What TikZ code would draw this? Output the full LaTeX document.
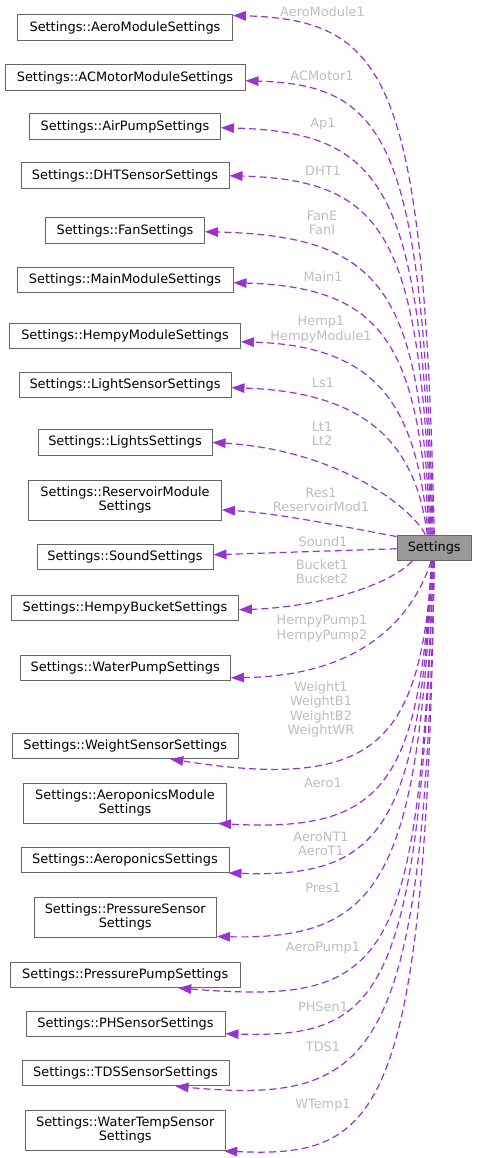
\documentclass[tikz,border=0pt]{standalone}
\usepackage{fontspec}
\setmainfont{DejaVu Sans}
\usetikzlibrary{arrows.meta}
\definecolor{edgecol}{HTML}{9A32CD}
\definecolor{boxgray}{HTML}{666666}
\definecolor{selfill}{HTML}{999999}
\definecolor{labgray}{HTML}{BEBEBE}
\newcommand\lblfont{\fontsize{12.9}{14.3}\selectfont}
\begin{document}
\begin{tikzpicture}[x=1pt,y=-1pt,
  box/.style={draw=boxgray, fill=white, line width=1pt, inner sep=0pt, font=\lblfont, text=black, align=center},
  rel/.style={draw=edgecol, line width=1.2pt, dash pattern=on 7pt off 4pt, -{Triangle[length=13pt,width=9.5pt,fill=edgecol]}},
  lab/.style={text=labgray, font=\lblfont, align=center, inner sep=0pt}]
\useasboundingbox (0,0) rectangle (477,1158);
\fill[white] (0,0) rectangle (477,1158);
% nodes
\node[box, minimum width=74.5pt, minimum height=25.5pt, fill=selfill] (s) at (434.25,547.75) {Settings};
\node[box, minimum width=215pt, minimum height=25.5pt] (n1) at (125,27.75) {Settings::AeroModuleSettings};
\node[box, minimum width=240pt, minimum height=25.5pt] (n2) at (125,77.75) {Settings::ACMotorModuleSettings};
\node[box, minimum width=191pt, minimum height=25.5pt] (n3) at (125,126.75) {Settings::AirPumpSettings};
\node[box, minimum width=208pt, minimum height=25.5pt] (n4) at (125,175.75) {Settings::DHTSensorSettings};
\node[box, minimum width=159pt, minimum height=25.5pt] (n5) at (125,230.75) {Settings::FanSettings};
\node[box, minimum width=216pt, minimum height=25.5pt] (n6) at (125,279.75) {Settings::MainModuleSettings};
\node[box, minimum width=231pt, minimum height=25.5pt] (n7) at (125,335.75) {Settings::HempyModuleSettings};
\node[box, minimum width=212pt, minimum height=25.5pt] (n8) at (125,384.75) {Settings::LightSensorSettings};
\node[box, minimum width=174pt, minimum height=25.5pt] (n9) at (125,442.4) {Settings::LightsSettings};
\node[box, minimum width=193pt, minimum height=40pt] (n10) at (125,500) {Settings::ReservoirModule\\Settings};
\node[box, minimum width=176pt, minimum height=25.5pt] (n11) at (125,556.75) {Settings::SoundSettings};
\node[box, minimum width=227pt, minimum height=25.5pt] (n12) at (125,607.75) {Settings::HempyBucketSettings};
\node[box, minimum width=210.5pt, minimum height=25.5pt] (n13) at (125.25,667.75) {Settings::WaterPumpSettings};
\node[box, minimum width=225.5pt, minimum height=25.5pt] (n14) at (125.25,745.75) {Settings::WeightSensorSettings};
\node[box, minimum width=203pt, minimum height=40pt] (n15) at (125,803) {Settings::AeroponicsModule\\Settings};
\node[box, minimum width=208pt, minimum height=25.5pt] (n16) at (125,859.75) {Settings::AeroponicsSettings};
\node[box, minimum width=182.5pt, minimum height=40pt] (n17) at (125.25,917) {Settings::PressureSensor\\Settings};
\node[box, minimum width=229.5pt, minimum height=25.5pt] (n18) at (125.25,974.75) {Settings::PressurePumpSettings};
\node[box, minimum width=199pt, minimum height=25.5pt] (n19) at (125.5,1023.75) {Settings::PHSensorSettings};
\node[box, minimum width=207pt, minimum height=25.5pt] (n20) at (125.5,1073) {Settings::TDSSensorSettings};
\node[box, minimum width=200.5pt, minimum height=40.5pt] (n21) at (125.25,1130.25) {Settings::WaterTempSensor\\Settings};
% edges (upper)
\draw[rel] ([xshift=0pt]s.north) .. controls (424,81) and (390,20) .. ([yshift=-1pt]n1.north east);
\draw[rel] ([xshift=-1pt]s.north) .. controls (422,146) and (390,85) .. ([yshift=-3pt]n2.east);
\draw[rel] ([xshift=-2pt]s.north) .. controls (421,193) and (390,132) .. ([yshift=-1pt]n3.east);
\draw[rel] ([xshift=-3pt]s.north) .. controls (420,241) and (390,180) .. (n4.east);
\draw[rel] ([xshift=-4pt]s.north) .. controls (419,297) and (390,236) .. ([yshift=-1pt]n5.east);
\draw[rel] ([xshift=-5pt]s.north) .. controls (418,350) and (388,287) .. ([yshift=-3pt]n6.east);
\draw[rel] ([xshift=-6pt]s.north) .. controls (417,410) and (382,346) .. ([yshift=-6pt]n7.east);
\draw[rel] ([xshift=-7pt]s.north) .. controls (417,455) and (378,392) .. ([yshift=-3pt]n8.east);
\draw[rel] ([xshift=-9pt]s.north) .. controls (410,505) and (335,450) .. (n9.east);
\draw[rel] ([yshift=-2pt]s.north west) .. controls (360,530) and (280,513) .. ([yshift=-10pt]n10.east);
\draw[rel] ([yshift=-1pt]s.west) -- ([yshift=2pt]n11.east);
% edges (lower)
\draw[rel] ([xshift=-22pt]s.south) .. controls (390,585) and (320,607) .. ([yshift=-2pt]n12.east);
\draw[rel] ([xshift=-3pt]s.south) .. controls (412,620) and (360,676) .. ([yshift=-10pt]n13.east);
\draw[rel] ([xshift=-2pt]s.south) .. controls (420,740) and (380,792) .. ([xshift=45pt]n14.south);
\draw[rel] ([xshift=-3pt]s.south) .. controls (420,790) and (380,832) .. ([xshift=93pt]n15.south);
\draw[rel] ([xshift=-2pt]s.south) .. controls (418,830) and (380,878) .. ([xshift=-1pt]n16.south east);
\draw[rel] ([xshift=-2pt]s.south) .. controls (418,880) and (380,940) .. ([yshift=1pt]n17.south east);
\draw[rel] ([xshift=-1pt]s.south) .. controls (418,970) and (390,1005) .. ([xshift=53pt]n18.south);
\draw[rel] ([xshift=-1pt]s.south) .. controls (420,1000) and (380,1038) .. ([yshift=-10pt]n19.east);
\draw[rel] ([xshift=0pt]s.south) .. controls (424,1060) and (380,1105) .. ([xshift=50pt]n20.south);
\draw[rel] ([xshift=0pt]s.south) .. controls (426,1120) and (380,1158) .. ([xshift=99pt]n21.south);
% labels
\node[lab] (l1) at (322.5,12) {AeroModule1};
\node[lab] (l2) at (322,76) {ACMotor1};
\node[lab] (l3) at (323,124) {Ap1};
\node[lab] (l4) at (323,171) {DHT1};
\node[lab] (l5) at (322,223) {FanE\\FanI};
\node[lab] (l6) at (323,277) {Main1};
\node[lab] (l7) at (321,329.5) {Hemp1\\HempyModule1};
\node[lab] (l8) at (323,383) {Ls1};
\node[lab] (l9) at (322,433.5) {Lt1\\Lt2};
\node[lab] (l10) at (321,500) {Res1\\ReservoirMod1};
\node[lab] (l11) at (323,542) {Sound1};
\node[lab] (l12) at (322,572) {Bucket1\\Bucket2};
\node[lab] (l13) at (322,628.5) {HempyPump1\\HempyPump2};
\node[lab] (l14) at (321,709.5) {Weight1\\WeightB1\\WeightB2\\WeightWR};
\node[lab] (l15) at (323,783) {Aero1};
\node[lab] (l16) at (321,844) {AeroNT1\\AeroT1};
\node[lab] (l17) at (323,888) {Pres1};
\node[lab] (l18) at (323,948) {AeroPump1};
\node[lab] (l19) at (323,1007) {PHSen1};
\node[lab] (l20) at (323,1047) {TDS1};
\node[lab] (l21) at (323,1105) {WTemp1};
\end{tikzpicture}
\end{document}
